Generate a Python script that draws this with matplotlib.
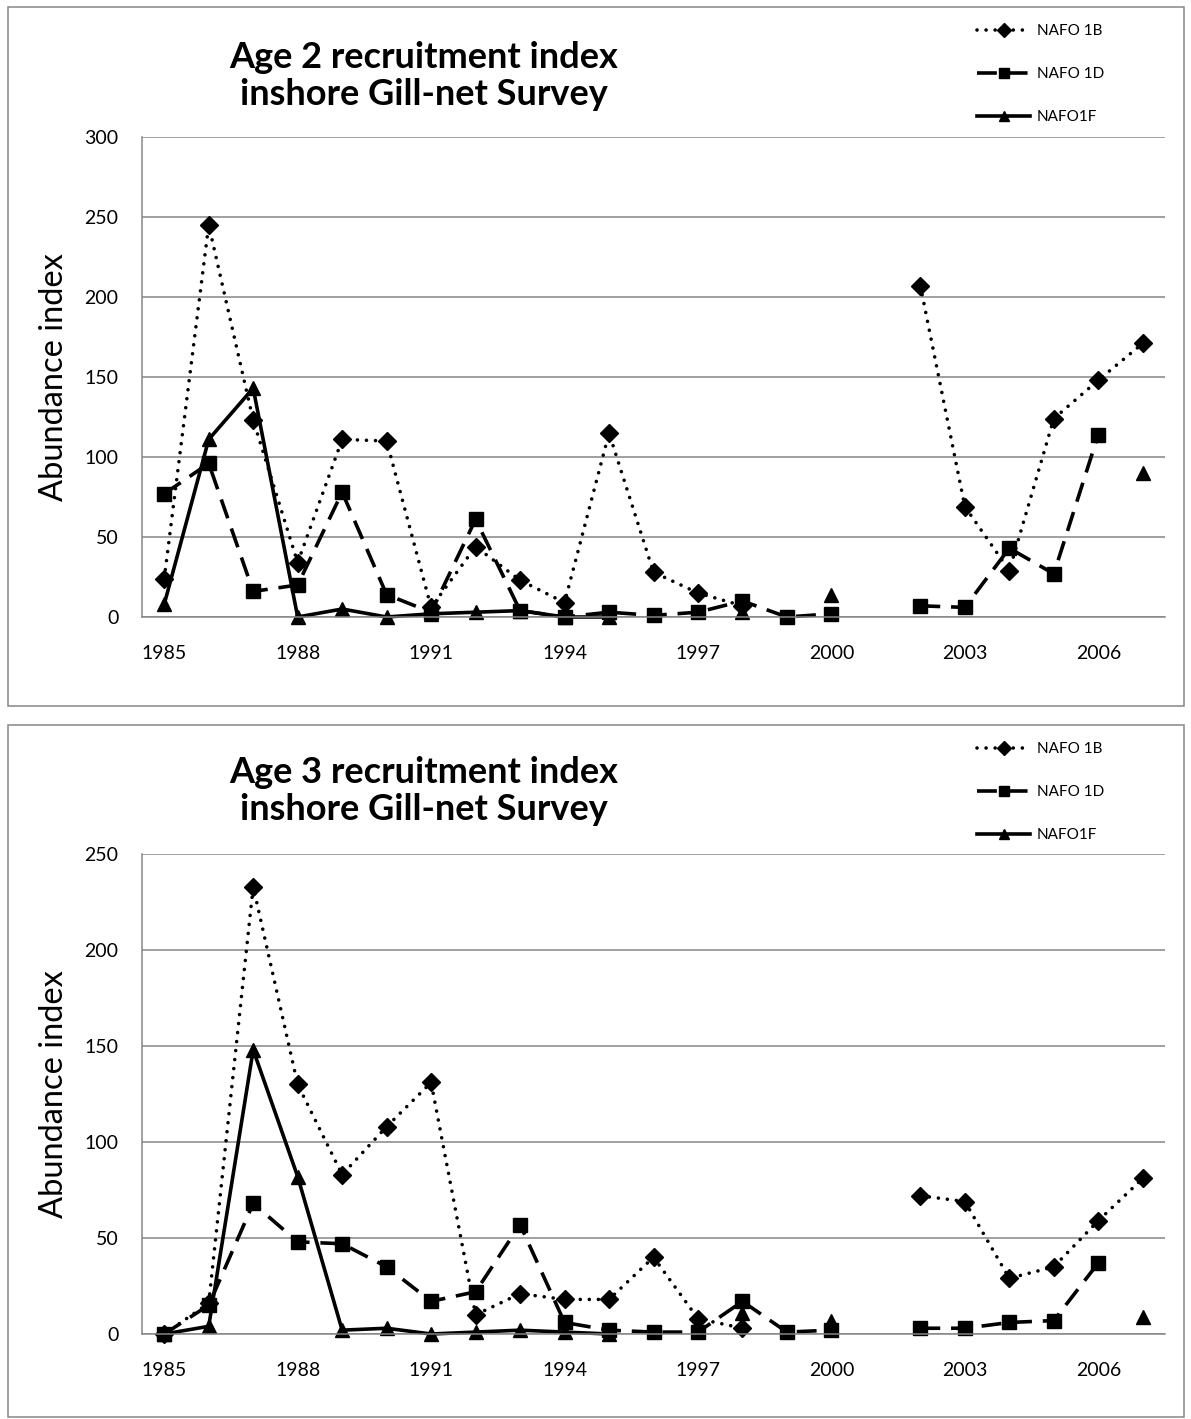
import numpy as np
import matplotlib
matplotlib.use("Agg")
import matplotlib.pyplot as plt
from matplotlib.patches import Rectangle

plt.rcParams['font.family'] = ['Lato', 'DejaVu Sans']

nan = np.nan
years = list(range(1985, 2008))
tick_years = [1985, 1988, 1991, 1994, 1997, 2000, 2003, 2006]

# Age 2 index
age2_1b = [24, 245, 123, 34, 111, 110, 6, 44, 23, 9, 115, 28, 15, 7,
           nan, nan, nan, 207, 69, 29, 124, 148, 171]
age2_1d = [77, 96, 16, 20, 78, 14, 3, 61, 4, 0, 3, 1, 3, 10,
           0, 2, nan, 7, 6, 43, 27, 114, nan]
age2_1f = [8, 111, 143, 0, 5, 0, 2, 3, 4, 0, 0, nan, nan, 3,
           nan, 14, nan, nan, nan, nan, nan, nan, 90]

# Age 3 index
age3_1b = [0, 16, 233, 130, 83, 108, 131, 10, 21, 18, 18, 40, 8, 3,
           nan, nan, nan, 72, 69, 29, 35, 59, 81]
age3_1d = [0, 15, 68, 48, 47, 35, 17, 22, 57, 6, 2, 1, 1, 17,
           1, 2, nan, 3, 3, 6, 7, 37, nan]
age3_1f = [0, 4, 148, 82, 2, 3, 0, 1, 2, 1, 0, nan, nan, 11,
           nan, 7, nan, nan, nan, nan, nan, nan, 9]

labels = ["NAFO 1B", "NAFO 1D", "NAFO1F"]

W, H = 1191, 1419
fig = plt.figure(figsize=(W / 100, H / 100), dpi=100)
grey = '#868686'


def px_axes(l, t, r, b):
    return [l / W, 1 - b / H, (r - l) / W, (b - t) / H]


def draw_panel(box, plot, title, ymax, series, title_y, leg_y):
    bx0, by0, bx1, by1 = box
    fig.patches.append(Rectangle((bx0 / W, 1 - by1 / H), (bx1 - bx0) / W, (by1 - by0) / H,
                                 transform=fig.transFigure, fill=False,
                                 edgecolor=grey, lw=1.1))
    ax = fig.add_axes(px_axes(*plot))
    x = np.arange(len(years))
    styles = [dict(ls=(0, (0.01, 2.5)), marker='D', ms=9, dash_capstyle='round'),
              dict(ls=(0, (5.5, 3)), marker='s', ms=10.5),
              dict(ls='-', marker='^', ms=10.5)]
    handles = []
    for vals, st, lab in zip(series, styles, labels):
        h, = ax.plot(x, vals, color='black', lw=2.6, clip_on=False, label=lab, **st)
        handles.append(h)
    ax.set_xlim(-0.5, len(years) - 0.5)
    ax.set_ylim(0, ymax)
    ax.set_yticks(np.arange(0, ymax + 1, 50))
    ax.set_xticks([years.index(y) for y in tick_years])
    ax.set_xticklabels([str(y) for y in tick_years])
    ax.tick_params(length=0, labelsize=14)
    ax.tick_params(axis='y', pad=17)
    ax.tick_params(axis='x', pad=20)
    ax.grid(axis='y', color=grey, lw=1.1)
    ax.set_axisbelow(True)
    for s in ['top', 'right']:
        ax.spines[s].set_visible(False)
    for s in ['left', 'bottom']:
        ax.spines[s].set_color(grey)
        ax.spines[s].set_linewidth(1.1)
    ax.set_ylabel("Abundance index", fontsize=23.5)
    ax.yaxis.set_label_coords(-0.071, 0.5)
    fig.text(424 / W, 1 - title_y / H, title, ha='center', va='center',
             fontsize=26, fontweight='bold', linespacing=1.15)
    ax.legend(handles=handles, loc='upper left',
              bbox_to_anchor=(977 / W, 1 - leg_y / H), bbox_transform=fig.transFigure,
              frameon=False, fontsize=11, handlelength=3.5, labelspacing=1.9,
              handletextpad=0.4, markerscale=0.75, borderpad=0, borderaxespad=0)
    return ax


draw_panel((8, 7, 1184, 706), (142, 137, 1165, 617),
           "Age 2 recruitment index\ninshore Gill-net Survey", 300,
           [age2_1b, age2_1d, age2_1f], 76, 24)
draw_panel((8, 725, 1184, 1417), (142, 854, 1165, 1334),
           "Age 3 recruitment index\ninshore Gill-net Survey", 250,
           [age3_1b, age3_1d, age3_1f], 791, 742)

fig.savefig("out.png", dpi=100)
